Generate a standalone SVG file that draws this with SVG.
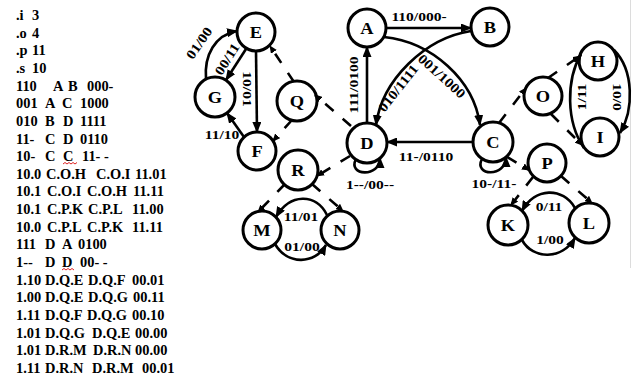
<svg xmlns="http://www.w3.org/2000/svg" width="637" height="380" viewBox="0 0 637 380">
  <style>
    .node circle { fill: #fff; stroke: #000; stroke-width: 3; }
    .node text, .lbl, .list text { font-family: "Liberation Serif", "Times New Roman", serif; font-weight: bold; fill: #000; }
    .node text { font-size: 16px; text-anchor: middle; }
    .lbl { font-size: 13.5px; text-anchor: middle; }
    .list text { font-size: 14px; white-space: pre; }
    .wire { fill: none; stroke: #000; stroke-width: 2.6; marker-end: url(#arrow); }
    .dash { fill: none; stroke: #000; stroke-width: 2.6; stroke-dasharray: 11 12; marker-end: url(#tick); }
    .squiggle { fill: none; stroke: #d22; stroke-width: 1; }
  </style>
  <defs>
    <marker id="arrow" markerUnits="userSpaceOnUse" markerWidth="11" markerHeight="9" refX="10" refY="4.5" orient="auto">
      <path d="M0,0 L11,4.5 L0,9 z" fill="#000"/>
    </marker>
    <marker id="tick" markerUnits="userSpaceOnUse" markerWidth="8" markerHeight="7" refX="7" refY="3.5" orient="auto">
      <path d="M0,0 L8,3.5 L0,7 z" fill="#000"/>
    </marker>
  </defs>

  <rect width="637" height="380" fill="#fff"/>
  <line x1="630.5" y1="0" x2="630.5" y2="268" stroke="#dcdcdc" stroke-width="1"/>

  <!-- state table -->
  <g class="list" transform="scale(1.03 1)">
    <text y="20"><tspan x="15.53">.i</tspan><tspan x="31.07">3</tspan></text>
    <text y="37.65"><tspan x="15.53">.o</tspan><tspan x="31.07">4</tspan></text>
    <text y="55.3"><tspan x="15.53">.p</tspan><tspan x="31.07">11</tspan></text>
    <text y="72.95"><tspan x="15.53">.s</tspan><tspan x="31.07">10</tspan></text>
    <text y="90.6"><tspan x="15.53">110</tspan><tspan x="51.46">A</tspan><tspan x="66.02">B</tspan><tspan x="84.47">000-</tspan></text>
    <text y="108.25"><tspan x="15.53">001</tspan><tspan x="43.69">A</tspan><tspan x="60.19">C</tspan><tspan x="77.67">1000</tspan></text>
    <text y="125.9"><tspan x="15.53">010</tspan><tspan x="43.69">B</tspan><tspan x="61.17">D</tspan><tspan x="77.67">1111</tspan></text>
    <text y="143.55"><tspan x="15.53">11-</tspan><tspan x="43.69">C</tspan><tspan x="61.17">D</tspan><tspan x="77.67">0110</tspan></text>
    <text y="161.2"><tspan x="15.53">10-</tspan><tspan x="43.69">C</tspan><tspan x="61.17">C</tspan><tspan x="79.61">11- -</tspan></text>
    <text y="178.85"><tspan x="15.53">10.0</tspan><tspan x="44.66">C.O.H</tspan><tspan x="93.2">C.O.I</tspan><tspan x="131.07">11.01</tspan></text>
    <text y="196.5"><tspan x="15.53">10.1</tspan><tspan x="45.63">C.O.I</tspan><tspan x="84.47">C.O.H</tspan><tspan x="129.13">11.11</tspan></text>
    <text y="214.15"><tspan x="15.53">10.1</tspan><tspan x="45.63">C.P.K</tspan><tspan x="85.44">C.P.L</tspan><tspan x="128.16">11.00</tspan></text>
    <text y="231.8"><tspan x="15.53">10.0</tspan><tspan x="45.63">C.P.L</tspan><tspan x="84.47">C.P.K</tspan><tspan x="128.16">11.11</tspan></text>
    <text y="249.45"><tspan x="15.53">111</tspan><tspan x="43.69">D</tspan><tspan x="60.19">A</tspan><tspan x="75.73">0100</tspan></text>
    <text y="267.1"><tspan x="15.53">1--</tspan><tspan x="43.69">D</tspan><tspan x="60.19">D</tspan><tspan x="77.67">00- -</tspan></text>
    <text y="284.75"><tspan x="15.53">1.10</tspan><tspan x="43.69">D.Q.E</tspan><tspan x="85.44">D.Q.F</tspan><tspan x="128.16">00.01</tspan></text>
    <text y="302.4"><tspan x="15.53">1.00</tspan><tspan x="43.69">D.Q.E</tspan><tspan x="85.44">D.Q.G</tspan><tspan x="129.13">00.11</tspan></text>
    <text y="320.05"><tspan x="15.53">1.11</tspan><tspan x="43.69">D.Q.F</tspan><tspan x="84.47">D.Q.G</tspan><tspan x="128.16">00.10</tspan></text>
    <text y="337.7"><tspan x="15.53">1.01</tspan><tspan x="43.69">D.Q.G</tspan><tspan x="89.32">D.Q.E</tspan><tspan x="131.07">00.00</tspan></text>
    <text y="355.35"><tspan x="15.53">1.01</tspan><tspan x="43.69">D.R.M</tspan><tspan x="90.29">D.R.N</tspan><tspan x="131.07">00.00</tspan></text>
    <text y="373"><tspan x="15.53">1.11</tspan><tspan x="43.69">D.R.N</tspan><tspan x="89.32">D.R.M</tspan><tspan x="137.86">00.01</tspan></text>
  </g>
  <!-- spell-check marks under repeated states -->
  <path class="squiggle" d="M63,164 l2,-1.5 l2,1.5 l2,-1.5 l2,1.5 l2,-1.5 l2,1.5 l2,-1.5"/>
  <path class="squiggle" d="M62,270 l2,-1.5 l2,1.5 l2,-1.5 l2,1.5 l2,-1.5 l2,1.5"/>

  <!-- states -->
  <g id="node-E" class="node"><circle cx="256" cy="32" r="19"/><text transform="translate(256 32) scale(1.15 1)" y="5.5">E</text></g>
  <g id="node-G" class="node"><circle cx="215" cy="97" r="20"/><text transform="translate(215 97) scale(1.15 1)" y="5.5">G</text></g>
  <g id="node-F" class="node"><circle cx="257" cy="151" r="19"/><text transform="translate(257 151) scale(1.15 1)" y="5.5">F</text></g>
  <g id="node-Q" class="node"><circle cx="297" cy="101" r="20"/><text transform="translate(297 101) scale(1.15 1)" y="5.5">Q</text></g>
  <g id="node-R" class="node"><circle cx="298" cy="170" r="20"/><text transform="translate(298 170) scale(1.15 1)" y="5.5">R</text></g>
  <g id="node-M" class="node"><circle cx="262" cy="230" r="19"/><text transform="translate(262 230) scale(1.15 1)" y="5.5">M</text></g>
  <g id="node-N" class="node"><circle cx="340" cy="230" r="19"/><text transform="translate(340 230) scale(1.15 1)" y="5.5">N</text></g>
  <g id="node-A" class="node"><circle cx="367" cy="28" r="19"/><text transform="translate(367 28) scale(1.15 1)" y="5.5">A</text></g>
  <g id="node-B" class="node"><circle cx="490" cy="27" r="19"/><text transform="translate(490 27) scale(1.15 1)" y="5.5">B</text></g>
  <g id="node-D" class="node"><circle cx="367" cy="143" r="20"/><text transform="translate(367 143) scale(1.15 1)" y="5.5">D</text></g>
  <g id="node-C" class="node"><circle cx="493" cy="142" r="20"/><text transform="translate(493 142) scale(1.15 1)" y="5.5">C</text></g>
  <g id="node-O" class="node"><circle cx="543" cy="96" r="19"/><text transform="translate(543 96) scale(1.15 1)" y="5.5">O</text></g>
  <g id="node-H" class="node"><circle cx="598" cy="61" r="19"/><text transform="translate(598 61) scale(1.15 1)" y="5.5">H</text></g>
  <g id="node-I" class="node"><circle cx="600" cy="137" r="19"/><text transform="translate(600 137) scale(1.15 1)" y="5.5">I</text></g>
  <g id="node-P" class="node"><circle cx="547" cy="163" r="19"/><text transform="translate(547 163) scale(1.15 1)" y="5.5">P</text></g>
  <g id="node-K" class="node"><circle cx="508" cy="225" r="20"/><text transform="translate(508 225) scale(1.15 1)" y="5.5">K</text></g>
  <g id="node-L" class="node"><circle cx="589" cy="223" r="20"/><text transform="translate(589 223) scale(1.15 1)" y="5.5">L</text></g>

  <!-- transitions and hierarchy links -->
  <g id="connectors">
    <path class="wire" d="M206,79 C204,55 215,35 237,31"/>
    <path class="wire" d="M246,49 L226,80"/>
    <path class="wire" d="M256,51 L257,132"/>
    <path class="wire" d="M244,137 L227,113"/>
    <path class="wire" d="M386,28 L471,28"/>
    <path class="wire" d="M384,37 C432,42 474,80 480,125"/>
    <path class="wire" d="M471,31 C425,38 382,80 376,125"/>
    <path class="wire" d="M367,123 L367,47"/>
    <path class="wire" d="M473,142 L387,142"/>
    <path class="wire" d="M356,159 C347,176 380,178 380,158"/>
    <path class="wire" d="M482,159 C473,176 506,178 506,157"/>
    <path class="wire" d="M327,215 C316,193 290,193 276,217"/>
    <path class="wire" d="M275,244 C287,265 315,265 326,245"/>
    <path class="wire" d="M575,208 C563,187 535,187 522,211"/>
    <path class="wire" d="M522,240 C533,260 562,260 575,238"/>
    <path class="wire" d="M584,148 C566,122 566,80 581,54"/>
    <path class="wire" d="M614,50 C634,70 634,110 620,133"/>

    <path class="dash" d="M351,126 L315,95"/>
    <path class="dash" d="M294,82 L270,46"/>
    <path class="dash" d="M292,120 L273,141"/>
    <path class="dash" d="M350,156 L317,176"/>
    <path class="dash" d="M285,184 L258,212"/>
    <path class="dash" d="M312,184 L343,211"/>
    <path class="dash" d="M499,123 L526,88"/>
    <path class="dash" d="M548,78 L580,56"/>
    <path class="dash" d="M551,114 L582,145"/>
    <path class="dash" d="M507,157 L529,170"/>
    <path class="dash" d="M533,177 L511,205"/>
    <path class="dash" d="M561,176 L592,203"/>
  </g>

  <!-- transition labels -->
  <g id="labels">
    <text class="lbl" transform="translate(199 43) rotate(-55) scale(1.15 1)" dy="0.35em">01/00</text>
    <text class="lbl" transform="translate(227 59) rotate(-58) scale(1.15 1)" dy="0.35em">00/11</text>
    <text class="lbl" transform="translate(248 89) rotate(90) scale(1.15 1)" dy="0.35em">10/01</text>
    <text class="lbl" transform="translate(222 134) scale(1.15 1)" dy="0.35em">11/10</text>
    <text class="lbl" transform="translate(419 16) scale(1.15 1)" dy="0.35em">110/000-</text>
    <text class="lbl" transform="translate(442 76) rotate(42) scale(1.15 1)" dy="0.35em">001/1000</text>
    <text class="lbl" transform="translate(398 88) rotate(-52) scale(1.15 1)" dy="0.35em">010/1111</text>
    <text class="lbl" transform="translate(353 85) rotate(-90) scale(1.15 1)" dy="0.35em">111/0100</text>
    <text class="lbl" transform="translate(426 156) scale(1.15 1)" dy="0.35em">11-/0110</text>
    <text class="lbl" transform="translate(370 184) scale(1.15 1)" dy="0.35em">1--/00--</text>
    <text class="lbl" transform="translate(494 183) scale(1.15 1)" dy="0.35em">10-/11-</text>
    <text class="lbl" transform="translate(301 216) scale(1.15 1)" dy="0.35em">11/01</text>
    <text class="lbl" transform="translate(302 246) scale(1.15 1)" dy="0.35em">01/00</text>
    <text class="lbl" transform="translate(549 206) scale(1.15 1)" dy="0.35em">0/11</text>
    <text class="lbl" transform="translate(550 239) scale(1.15 1)" dy="0.35em">1/00</text>
    <text class="lbl" transform="translate(581 97) rotate(-90) scale(1.15 1)" dy="0.35em">1/11</text>
    <text class="lbl" transform="translate(618 97) rotate(90) scale(1.15 1)" dy="0.35em">10/0</text>
  </g>
</svg>
